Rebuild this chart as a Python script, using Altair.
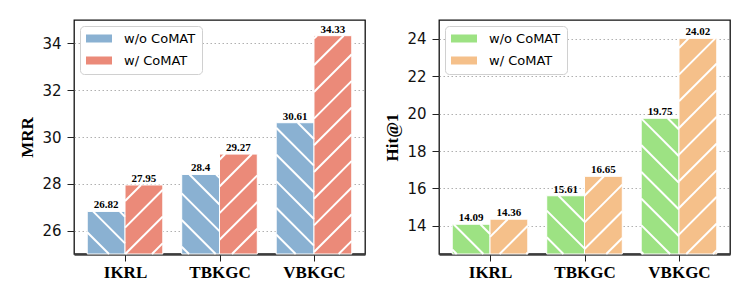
import math
import json
import altair as alt
import pandas as pd

# ---- data ----
models = ["IKRL", "TBKGC", "VBKGC"]
series = ["w/o CoMAT", "w/ CoMAT"]
mrr_wo = [26.82, 28.4, 30.61]
mrr_w = [27.95, 29.27, 34.33]
hit_wo = [14.09, 15.61, 19.75]
hit_w = [14.36, 16.65, 24.02]
mrr_ticks = [26, 28, 30, 32, 34]
hit_ticks = [14, 16, 18, 20, 22, 24]

# ---- layout / style ----
W, H = 291, 234
XDOM = [-0.54, 2.54]
BAR_W = 0.4
HATCH_STEP = 26.67
SERIF = "Liberation Serif"
SANS = "DejaVu Sans"


def make_panel(vals_wo, vals_w, ydom, yticks, ytitle, colors, phases):
    rows = []
    for j, (s, vals) in enumerate(zip(series, [vals_wo, vals_w])):
        for i, (m, v) in enumerate(zip(models, vals)):
            x0 = i - BAR_W + j * BAR_W
            rows.append(dict(model=m, series=s, value=v, x0=x0, x1=x0 + BAR_W,
                             xc=x0 + BAR_W / 2, label=f"{v:g}", y0=ydom[0], j=j))
    df = pd.DataFrame(rows)

    # hatch segments (45 deg in pixel space), derived from the bars above
    kx = W / (XDOM[1] - XDOM[0])
    ky = H / (ydom[1] - ydom[0])
    hatch = []
    for r in rows:
        X0 = (r["x0"] - XDOM[0]) * kx
        X1 = (r["x1"] - XDOM[0]) * kx
        Yt = (ydom[1] - r["value"]) * ky
        Yb = H
        j = r["j"]
        if j == 0:
            cmin, cmax = Yt - X1, Yb - X0
        else:
            cmin, cmax = X0 + Yt, X1 + Yb
        ph = phases[j]
        k = math.ceil((cmin - ph) / HATCH_STEP)
        while True:
            c = ph + k * HATCH_STEP
            k += 1
            if c > cmax:
                break
            if j == 0:
                xa = max(X0, Yt - c)
                xb = min(X1, Yb - c)
                if xb - xa < 0.5:
                    continue
                ya, yb = xa + c, xb + c
            else:
                xa = max(X0, c - Yb)
                xb = min(X1, c - Yt)
                if xb - xa < 0.5:
                    continue
                ya, yb = c - xa, c - xb
            hatch.append(dict(hx=XDOM[0] + xa / kx, hx2=XDOM[0] + xb / kx,
                              hy=ydom[1] - ya / ky, hy2=ydom[1] - yb / ky))
    hdf = pd.DataFrame(hatch)

    xscale = alt.Scale(domain=XDOM, nice=False, zero=False)
    yscale = alt.Scale(domain=ydom, nice=False, zero=False)
    xaxis = alt.Axis(values=list(range(len(models))),
                     labelExpr=f"{json.dumps(models)}[datum.value]",
                     title=None, grid=False, labelFont=SERIF, labelFontWeight="bold",
                     labelFontSize=17, labelColor="black", labelPadding=3,
                     tickSize=7, tickColor="#222", tickWidth=1,
                     domainColor="#3c3c3c", domainWidth=2.5)
    yaxis = alt.Axis(values=yticks, title=ytitle, titleFont=SERIF, titleFontWeight="bold",
                     titleFontSize=17, titleColor="black", titlePadding=5,
                     labelFont=SANS, labelFontSize=15, labelColor="#111", labelPadding=6,
                     tickSize=7, tickColor="#222", tickWidth=1, domain=False,
                     grid=True, gridDash=[1.5, 2.5], gridColor="#b0b0b0", gridWidth=1)

    bars = alt.Chart(df).mark_bar(stroke="white", strokeWidth=1).encode(
        x=alt.X("x0:Q", scale=xscale, axis=xaxis),
        x2="x1:Q",
        y=alt.Y("value:Q", scale=yscale, axis=yaxis),
        y2="y0:Q",
        color=alt.Color("series:N", scale=alt.Scale(domain=series, range=colors),
                        legend=alt.Legend(title=None, orient="top-left", offset=6,
                                          symbolType="M-1,-0.3H1V0.3H-1Z", symbolSize=676,
                                          symbolStrokeWidth=0, clipHeight=13, rowPadding=8,
                                          labelFont=SANS, labelFontSize=13, labelColor="black",
                                          labelOffset=12, padding=6, fillColor="white",
                                          strokeColor="#d0d0d0", cornerRadius=4)),
    )
    hatch_layer = alt.Chart(hdf).mark_rule(color="white", strokeWidth=2).encode(
        x=alt.X("hx:Q", scale=xscale, axis=xaxis),
        x2="hx2:Q",
        y=alt.Y("hy:Q", scale=yscale, axis=yaxis),
        y2="hy2:Q",
    )
    text = alt.Chart(df).mark_text(font=SERIF, fontWeight="bold", fontSize=11,
                                   baseline="alphabetic", dy=-3, color="black").encode(
        x=alt.X("xc:Q", scale=xscale, axis=xaxis),
        y=alt.Y("value:Q", scale=yscale, axis=yaxis),
        text="label:N",
    )
    return alt.layer(bars, hatch_layer, text).properties(width=W, height=H)


left = make_panel(mrr_wo, mrr_w, [25, 35], mrr_ticks, "MRR",
                  ["#8AB1D2", "#EB8A79"], [12.3, 18.6])
right = make_panel(hit_wo, hit_w, [12.5, 25], hit_ticks, "Hit@1",
                   ["#9DE283", "#F5C08A"], [2.9, 1.2])

chart = alt.hconcat(left, right, spacing=17).resolve_scale(color="independent").properties(
    padding={"left": 10, "top": 11, "right": 5, "bottom": 5},
    background="white",
).configure_view(stroke="#111", strokeWidth=1.3)

chart.save("out.html", embed_options={"renderer": "svg", "actions": False})
